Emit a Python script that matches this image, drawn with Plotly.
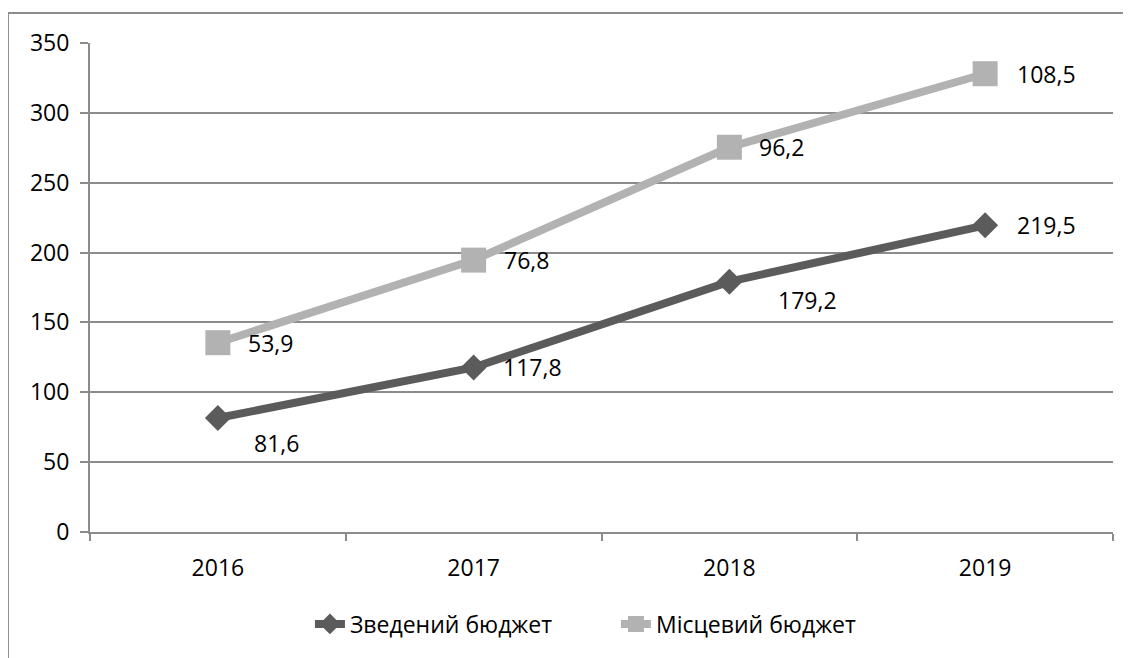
import numpy as np
import plotly.graph_objects as go

years = ["2016", "2017", "2018", "2019"]
consolidated = [81.6, 117.8, 179.2, 219.5]   # Зведений бюджет
local = [53.9, 76.8, 96.2, 108.5]            # Місцевий бюджет
series_names = ["Зведений бюджет", "Місцевий бюджет"]
y_ticks = [0, 50, 100, 150, 200, 250, 300, 350]

DARK = "#5b5b5b"
LIGHT = "#b2b2b2"
GRID = "#8c8c8c"
FONT = "Open Sans"
FS = 23

# label offsets (pixels) for each point – styling only
dark_offsets = [(34, 25), (27, 0), (47, 18), (30, 0)]
light_offsets = [(28, 0), (28, 0), (28, 0), (30, 0)]

fig = go.Figure()
fig.add_trace(go.Scatter(
    x=years, y=consolidated, name=series_names[0], mode="lines+markers",
    stackgroup="one", fill="none",
    line=dict(color=DARK, width=8),
    marker=dict(symbol="diamond", size=20, color=DARK),
))
fig.add_trace(go.Scatter(
    x=years, y=local, name=series_names[1], mode="lines+markers",
    stackgroup="one", fill="none",
    line=dict(color=LIGHT, width=8),
    marker=dict(symbol="square", size=25, color=LIGHT),
))

stacked_top = np.array(consolidated) + np.array(local)

def fmt(v):
    return f"{v:.1f}".replace(".", ",")

for i, yr in enumerate(years):
    dx, dy = dark_offsets[i]
    fig.add_annotation(x=i, y=consolidated[i], text=fmt(consolidated[i]),
                       showarrow=False, xanchor="left", yanchor="middle",
                       xshift=dx, yshift=-dy,
                       font=dict(family=FONT, size=FS, color="#000000"))
    dx, dy = light_offsets[i]
    fig.add_annotation(x=i, y=float(stacked_top[i]), text=fmt(local[i]),
                       showarrow=False, xanchor="left", yanchor="middle",
                       xshift=dx, yshift=-dy,
                       font=dict(family=FONT, size=FS, color="#000000"))

# outer chart-area border (top and left edges visible)
fig.add_shape(type="line", xref="paper", yref="paper",
              x0=-0.0802, x1=1.05, y0=1.0611, y1=1.0611,
              line=dict(color=GRID, width=2))
fig.add_shape(type="line", xref="paper", yref="paper",
              x0=-0.0802, x1=-0.0802, y0=1.0611, y1=-0.27,
              line=dict(color=GRID, width=2))

fig.update_layout(
    width=1123, height=650,
    margin=dict(l=82, r=18, t=35, b=124),
    paper_bgcolor="white", plot_bgcolor="white",
    font=dict(family=FONT, size=FS, color="#000000"),
    showlegend=True,
    legend=dict(orientation="h", x=0.215, xanchor="left", y=-0.188, yanchor="middle",
                font=dict(family=FONT, size=FS, color="#000000"),
                entrywidth=261, entrywidthmode="pixels",
                itemwidth=30, tracegroupgap=0, traceorder="normal"),
    xaxis=dict(type="category", categoryorder="array", categoryarray=years,
               range=[-0.5, 3.5], showgrid=False, tickson="boundaries",
               ticks="outside", ticklen=7, tickcolor=GRID, tickwidth=2,
               showline=True, linecolor=GRID, linewidth=2,
               ticklabelstandoff=14, zeroline=False),
    yaxis=dict(range=[0, 350], tickvals=y_ticks, showgrid=True, gridcolor=GRID,
               gridwidth=1.5, ticks="outside", ticklen=8, tickcolor=GRID, tickwidth=2,
               showline=True, linecolor=GRID, linewidth=2, zeroline=False,
               ticklabelstandoff=6),
)

fig.write_html("out.html")
